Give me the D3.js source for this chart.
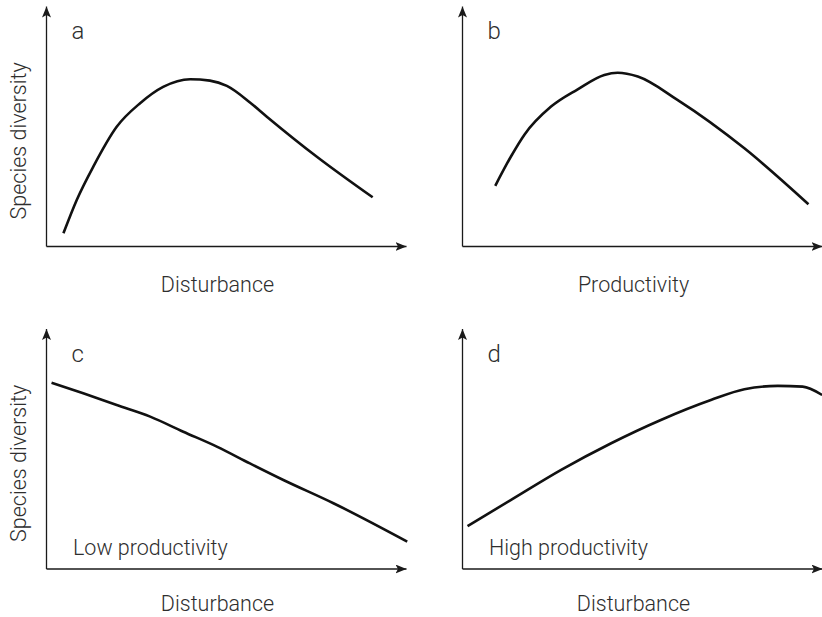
<!DOCTYPE html>
<html>
<head>
<meta charset="utf-8">
<script src="https://cdn.jsdelivr.net/npm/d3@7"></script>
<style>
  body { margin: 0; background: #fff; }
  svg text { font-family: Roboto, "Liberation Sans", Arial, sans-serif; font-weight: 300; fill: #2e2e2e; }
</style>
</head>
<body>
<div id="chart"></div>
<script>
const width = 822;
const height = 617;

// curves, x and y on a 0-100 scale (origin to arrow tip)
const curveA = [[4.7,5.5],[8.4,19.4],[13.0,33.3],[19.5,49.9],[26.0,59.7],[32.4,66.5],[39.9,69.7],[45.4,69.1],[50.1,66.9],[56.6,59.9],[61.2,54.1],[75.1,37.4],[90.6,20.5]];
const curveB = [[9.1,25.3],[13.5,37.6],[17.2,46.6],[24.6,58.3],[32.0,65.5],[39.4,71.5],[43.1,72.4],[48.7,70.8],[59.8,61.0],[78.3,40.9],[96.1,17.6]];
const curveC = [[1.4,77.6],[10.2,73.2],[19.5,68.3],[28.8,63.5],[38.0,57.2],[47.3,51.0],[56.5,44.0],[65.8,37.1],[79.7,27.4],[100.2,11.4]];
const curveD = [[1.4,17.9],[13.5,28.8],[27.4,41.3],[41.3,52.4],[55.1,62.1],[69.0,70.4],[78.3,74.9],[87.6,76.3],[94.5,76.0],[99.9,72.5]];

const panelLetters = ["a", "b", "c", "d"];
const xTitles = ["Disturbance", "Productivity", "Disturbance", "Disturbance"];
const yTitles = ["Species diversity", "", "Species diversity", ""];
const notes = ["", "", "Low productivity", "High productivity"];

// panel layout (origin of axes, pixels)
const panels = [
    { ox: 46.5, oy: 246.5, data: curveA },
    { ox: 462.5, oy: 246.5, data: curveB },
    { ox: 46.5, oy: 569, data: curveC },
    { ox: 462.5, oy: 569, data: curveD }
];
const pw = 360, ph = 240;

const svg = d3.select("#chart")
    .append("svg")
    .attr("width", width)
    .attr("height", height);

svg.append("defs").append("marker")
    .attr("id", "arrow")
    .attr("viewBox", "0 0 11 9")
    .attr("refX", 11)
    .attr("refY", 4.5)
    .attr("markerWidth", 11)
    .attr("markerHeight", 9)
    .attr("markerUnits", "userSpaceOnUse")
    .attr("orient", "auto")
    .append("path")
    .attr("d", "M0,0 L11,4.5 L0,9 L2.5,4.5 Z")
    .attr("fill", "#1a1a1a");

panels.forEach((p, i) => {
    const x = d3.scaleLinear().domain([0, 100]).range([p.ox, p.ox + pw]);
    const y = d3.scaleLinear().domain([0, 100]).range([p.oy, p.oy - ph]);

    const g = svg.append("g");

    // axes
    g.append("line")
        .attr("x1", x(0)).attr("y1", y(0))
        .attr("x2", x(0)).attr("y2", y(100))
        .attr("stroke", "#1a1a1a").attr("stroke-width", 1.3)
        .attr("marker-end", "url(#arrow)");
    g.append("line")
        .attr("x1", x(0)).attr("y1", y(0))
        .attr("x2", x(100)).attr("y2", y(0))
        .attr("stroke", "#1a1a1a").attr("stroke-width", 1.3)
        .attr("marker-end", "url(#arrow)");

    // curve
    const line = d3.line()
        .x(d => x(d[0]))
        .y(d => y(d[1]))
        .curve(d3.curveMonotoneX);

    g.append("path")
        .datum(p.data)
        .attr("d", line)
        .attr("fill", "none")
        .attr("stroke", "#111")
        .attr("stroke-width", 2.6);

    // texts
    g.append("text")
        .attr("x", x(0) + 25)
        .attr("y", y(100) + 32.5)
        .style("font-size", "24px")
        .text(panelLetters[i]);

    g.append("text")
        .attr("x", x(47.5))
        .attr("y", Math.min(y(0) + 45, height - 6.5))
        .attr("text-anchor", "middle")
        .style("font-size", "21.5px")
        .text(xTitles[i]);

    if (yTitles[i]) {
        g.append("text")
            .attr("transform", `translate(${x(0) - 20.5},${y(44)}) rotate(-90)`)
            .attr("text-anchor", "middle")
            .style("font-size", "21.5px")
            .text(yTitles[i]);
    }

    if (notes[i]) {
        g.append("text")
            .attr("x", x(0) + 26.5)
            .attr("y", y(0) - 14.5)
            .style("font-size", "21.5px")
            .text(notes[i]);
    }
});
</script>
</body>
</html>
